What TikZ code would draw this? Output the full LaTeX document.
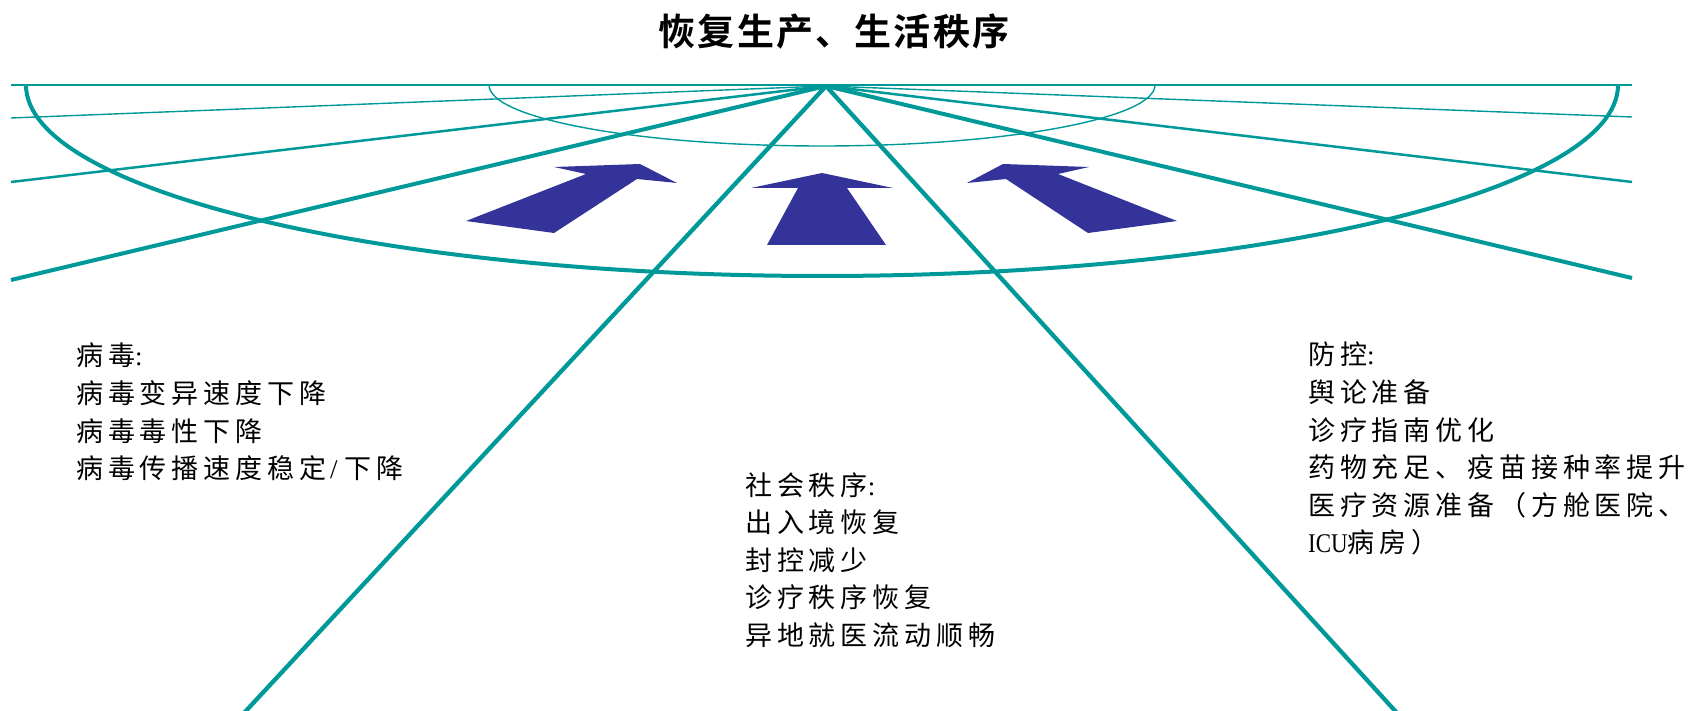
\documentclass[tikz,border=0pt]{standalone}
\usepackage{fontspec}
\newfontfamily\cjk[LetterSpace=18]{Noto Sans CJK SC}
\newfontfamily\cjktitle[LetterSpace=6]{Noto Sans CJK SC Bold}
\newfontfamily\lat{Liberation Serif}
\newfontfamily\latn[FakeStretch=0.85]{Liberation Serif}
\definecolor{tealline}{RGB}{0,153,153}
\definecolor{navyarrow}{RGB}{51,51,153}
\begin{document}
\begin{tikzpicture}[x=1pt,y=-1pt,
  hair/.style={draw=tealline,line width=1.4pt},
  midline/.style={draw=tealline,line width=2.5pt},
  heavy/.style={draw=tealline,line width=4pt},
  bigarrow/.style={fill=navyarrow},
  txt/.style={font=\cjk\fontsize{27}{37.6}\selectfont,align=left,inner sep=0pt,anchor=north west,text=black}]
\useasboundingbox[fill=white] (0,0) rectangle (1690,711);
% key points
\coordinate (apex) at (826,86);
\coordinate (topL) at (11,85);
\coordinate (topR) at (1632,85);
\coordinate (L1) at (11,118);
\coordinate (L2) at (11,182);
\coordinate (L3) at (11,280);
\coordinate (R1) at (1632,117);
\coordinate (R2) at (1632,182);
\coordinate (R3) at (1632,278);
\coordinate (D1) at (244,713);
\coordinate (D2) at (1397,713);
\coordinate (bigE) at (26,85);
\coordinate (smallE) at (489,85);
% horizon and ellipses
\draw[hair,line width=1.6pt] (topL) -- (topR);
\draw[hair] (smallE) arc[start angle=180,end angle=360,x radius=333pt,y radius=61pt];
\draw[heavy] (bigE) arc[start angle=180,end angle=360,x radius=796pt,y radius=191pt];
% rays
\draw[hair] (apex) -- (L1);
\draw[hair] (apex) -- (R1);
\draw[midline] (apex) -- (L2);
\draw[midline] (apex) -- (R2);
\draw[heavy] (apex) -- (L3);
\draw[heavy] (apex) -- (R3);
\draw[heavy,line width=4.3pt] (apex) -- (D1);
\draw[heavy,line width=4.3pt] (apex) -- (D2);
% arrows
\fill[bigarrow] (466,221) -- (554,233) -- (637,179) -- (677,183) -- (640,164) -- (554,167) -- (586,174) -- cycle;
\fill[bigarrow] (822,173) -- (751,188) -- (798,188) -- (767,245) -- (886,245) -- (847,188) -- (893,188) -- cycle;
\fill[bigarrow] (967,183) -- (1003,164) -- (1089,167) -- (1058,174) -- (1177,221) -- (1088,233) -- (1006,179) -- cycle;
% texts
\node[inner sep=0pt,font=\cjktitle\fontsize{37}{40}\selectfont] (title) at (834,32) {恢复生产、生活秩序};
\node[txt] (virus) at (76,343) {病毒{\lat :}\\病毒变异速度下降\\病毒毒性下降\\病毒传播速度稳定{\lat\hspace{4pt}/\hspace{7pt}}下降};
\node[txt] (social) at (745,472) {社会秩序{\lat :}\\出入境恢复\\封控减少\\诊疗秩序恢复\\异地就医流动顺畅};
\node[txt] (control) at (1308,342) {防控{\lat :}\\舆论准备\\诊疗指南优化\\药物充足、疫苗接种率提升\\医疗资源准备（方舱医院、\\{\latn ICU}病房）};
\end{tikzpicture}
\end{document}
